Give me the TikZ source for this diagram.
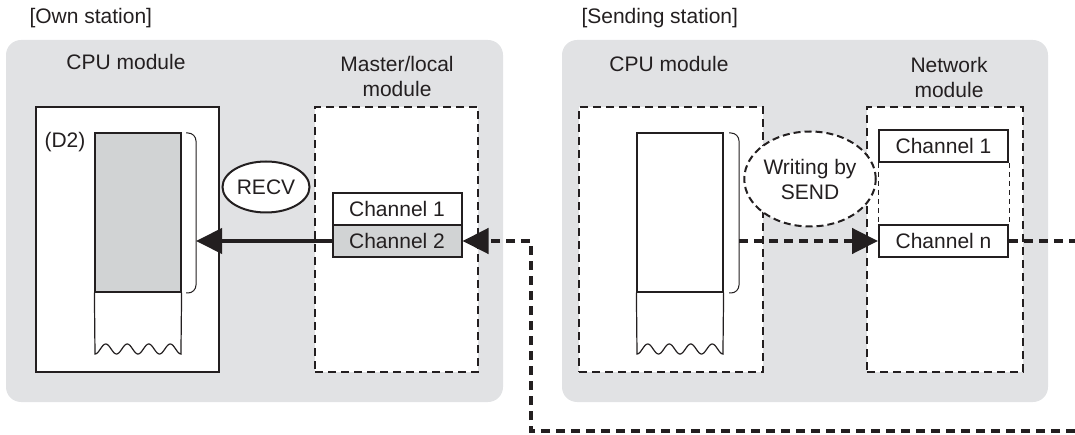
\documentclass[tikz,border=0pt]{standalone}
\usepackage{fontspec}
\setmainfont{Liberation Sans}
\usetikzlibrary{arrows.meta,shapes.geometric}
\definecolor{panelgrey}{RGB}{225,226,228}
\definecolor{memgrey}{RGB}{209,211,212}
\definecolor{inkblack}{RGB}{35,31,32}

\begin{document}
\begin{tikzpicture}[
		% pixel-like units, y grows downwards
		x={(1pt,0pt)},
		y={(0pt,-1pt)},
		font=\fontsize{21}{25}\selectfont,
		every node/.style={text=inkblack},
		panel/.style={rectangle, fill=panelgrey, rounded corners=15pt, inner sep=0pt},
		solidbox/.style={rectangle, draw=inkblack, line width=2.2pt, fill=white, inner sep=0pt},
		dashbox/.style={rectangle, draw=inkblack, line width=2.2pt, dash pattern=on 8pt off 5pt, fill=white, inner sep=0pt},
		chanbox/.style={rectangle, draw=inkblack, line width=2pt, fill=white, inner sep=0pt, minimum width=129pt, minimum height=32pt},
		membox/.style={rectangle, draw=inkblack, line width=1.2pt, inner sep=0pt, minimum width=86pt, minimum height=159pt},
		memline/.style={draw=inkblack, line width=1.2pt},
		bracket/.style={draw=inkblack, line width=1pt, rounded corners=8pt},
		bigarrow/.style={color=inkblack, line width=4pt, -{Triangle[length=26pt,width=25pt]}},
		netline/.style={color=inkblack, line width=4.5pt, dash pattern=on 9pt off 6pt},
		netarrow/.style={netline, -{Triangle[length=26pt,width=25pt]}},
		thindash/.style={draw=inkblack, line width=1pt, dash pattern=on 5pt off 4pt}
		]
		\useasboundingbox (0,0) rectangle (1075,435);
		
		% ==========================================
		% 1. Station panels and titles
		% ==========================================
		\node[panel, minimum width=497pt, minimum height=362pt] (ownpanel) at (254.5,221) {};
		\node[panel, minimum width=486pt, minimum height=362pt] (sendpanel) at (805,221) {};
		
		\node[anchor=west] (ownlabel) at (26,18) {[Own station]};
		\node[anchor=west] (sendlabel) at (578,18) {[Sending station]};
		
		% ==========================================
		% 2. Own station: CPU module and Master/local module
		% ==========================================
		\node (owncpulabel) at (126,62) {CPU module};
		\node[align=center] (masterlabel) at (397,76) {Master/local\\module};
		
		\node[solidbox, minimum width=183pt, minimum height=265pt] (owncpu) at (127.5,239.5) {};
		\node[dashbox, minimum width=163pt, minimum height=265pt] (master) at (396.5,239.5) {};
		
		% Device memory (D2)
		\node[membox, fill=memgrey] (owndata) at (138,212.5) {};
		\draw[memline] (owndata.south west) -- (95,354)
		-- plot[domain=0:1, samples=80] ({95+86*\x},{349+5*cos(1440*\x)})
		-- (owndata.south east);
		\node (d2label) at (65,142) {(D2)};
		\draw[bracket] (186,133) -- (196,133) -- (196,293) -- (186,293);
		\coordinate (ownbr) at (196,241);
		
		\node[ellipse, draw=inkblack, line width=2pt, fill=white, inner sep=0pt,
		minimum width=87pt, minimum height=51pt] (recv) at (266,187) {RECV};
		
		\node[chanbox] (ownch1) at (397,209) {Channel 1};
		\node[chanbox, fill=memgrey] (ownch2) at (397,241) {Channel 2};
		
		% ==========================================
		% 3. Sending station: CPU module and Network module
		% ==========================================
		\node (sendcpulabel) at (669,64) {CPU module};
		\node[align=center] (netlabel) at (949,77) {Network\\module};
		
		\node[dashbox, minimum width=184pt, minimum height=265pt] (sendcpu) at (671,239.5) {};
		\node[dashbox, minimum width=156pt, minimum height=265pt] (netmod) at (945,239.5) {};
		
		\node[membox] (senddata) at (680,212.5) {};
		\draw[memline] (senddata.south west) -- (637,354)
		-- plot[domain=0:1, samples=80] ({637+86*\x},{349+5*cos(1440*\x)})
		-- (senddata.south east);
		\draw[bracket] (729,133) -- (739,133) -- (739,293) -- (729,293);
		\coordinate (sendbr) at (739,241);
		
		\node[ellipse, draw=inkblack, line width=2pt, dash pattern=on 7pt off 4pt, fill=white,
		inner sep=0pt, align=center, minimum width=125pt, minimum height=95pt] (sendop) at (810,179) {Writing by\\SEND};
		
		\node[chanbox] (sendch1) at (943.5,146) {Channel 1};
		\node[chanbox] (sendchn) at (943.5,241) {Channel n};
		\draw[thindash] (sendch1.south west) -- (sendchn.north west);
		\draw[thindash] (sendch1.south east) -- (sendchn.north east);
		
		% ==========================================
		% 4. Data flow
		% ==========================================
		\coordinate (rightend) at (1075,241);
		\coordinate (bottomend) at (1075,431);
		\coordinate (netjoin) at (531,241);
		
		\draw[bigarrow] (ownch2.west) -- (ownbr);
		\draw[netarrow] (sendbr) -- (sendchn.west);
		\draw[netline] (sendchn.east) -- (rightend);
		\draw[netarrow] (bottomend) -| (netjoin) -- (ownch2.east);
		
	\end{tikzpicture}
\end{document}
